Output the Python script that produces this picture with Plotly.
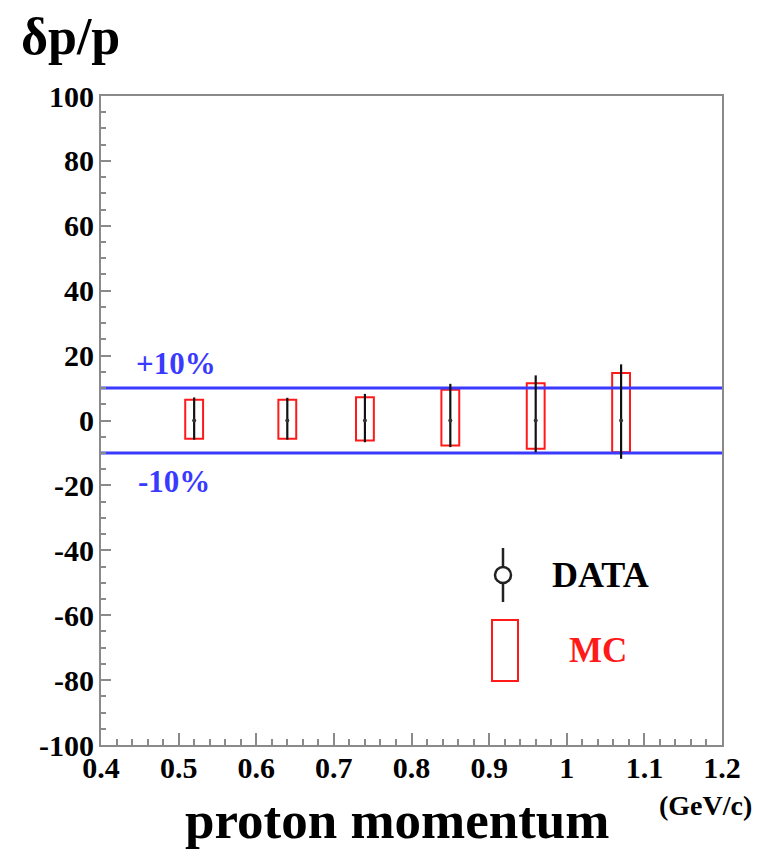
import plotly.graph_objects as go

# Proton momentum bins (GeV/c)
momentum = [0.52, 0.64, 0.74, 0.85, 0.96, 1.07]

# Measured resolution (DATA): central value and upper / lower error (%)
data_val = [0, 0, 0, 0, 0, 0]
data_err_up = [7.1, 7.0, 8.2, 11.3, 13.9, 17.3]
data_err_dn = [5.9, 5.9, 6.7, 8.2, 9.8, 11.8]

# Simulation (MC) band: upper / lower edges (%)
mc_up = [6.4, 6.4, 7.2, 9.5, 11.5, 14.6]
mc_dn = [5.6, 5.6, 6.2, 7.7, 8.7, 9.8]
mc_box_width = 0.023

# Reference band limits (%)
band_limits = [10, -10]
band_labels = ["+10%", "-10%"]

x_range = [0.4, 1.2]
y_range = [-100, 100]
y_ticks = [-100, -80, -60, -40, -20, 0, 20, 40, 60, 80, 100]
y_tick_labels = ["-100", "-80", "-60", "-40", "-20", "0", "20", "40", "60", "80", "100"]

W, H = 770, 854
L, R, T, B = 101, 48, 96, 109
PW, PH = W - L - R, H - T - B

SERIF = "Liberation Serif"
AXIS_GREY = "#8a8a8a"
BAND_BLUE = "#3a3aff"


def px(xp, yp):
    """Pixel position in the page -> paper coordinates."""
    return (xp - L) / PW, (H - B - yp) / PH


fig = go.Figure()

# MC boxes: open red rectangles spanning the MC band
fig.add_trace(go.Bar(
    x=momentum,
    y=[u + d for u, d in zip(mc_up, mc_dn)],
    base=[-d for d in mc_dn],
    width=mc_box_width,
    marker=dict(color="rgba(0,0,0,0)", line=dict(color="#ff1a1a", width=2)),
    showlegend=False,
    hoverinfo="skip",
))

# ±10 % reference lines
for lim in band_limits:
    fig.add_trace(go.Scatter(
        x=x_range, y=[lim, lim], mode="lines",
        line=dict(color=BAND_BLUE, width=3),
        showlegend=False, hoverinfo="skip",
    ))

# DATA points with vertical error bars
fig.add_trace(go.Scatter(
    x=momentum, y=data_val, mode="markers",
    marker=dict(color="#333333", size=4, symbol="circle"),
    error_y=dict(type="data", symmetric=False,
                 array=data_err_up, arrayminus=data_err_dn,
                 color="#111111", thickness=2.2, width=0),
    showlegend=False,
))

tick_font = dict(family=SERIF, size=30, color="black", weight="bold")

fig.update_xaxes(
    range=x_range, dtick=0.1, tick0=0.4,
    showline=True, linecolor=AXIS_GREY, linewidth=2, mirror=True,
    ticks="inside", ticklen=12, tickwidth=1.5, tickcolor=AXIS_GREY,
    minor=dict(dtick=0.02, ticks="inside", ticklen=6, tickcolor=AXIS_GREY, tickwidth=1.5),
    showgrid=False, zeroline=False,
    tickfont=tick_font, ticklabelstandoff=-5,
)
fig.update_yaxes(
    range=y_range, tickvals=y_ticks, ticktext=y_tick_labels,
    showline=True, linecolor=AXIS_GREY, linewidth=2, mirror=True,
    ticks="inside", ticklen=10, tickwidth=1.5, tickcolor=AXIS_GREY,
    minor=dict(dtick=5, ticks="inside", ticklen=5, tickcolor=AXIS_GREY, tickwidth=1.5),
    showgrid=False, zeroline=False,
    tickfont=tick_font, ticklabelstandoff=-1,
)

annotations = []


def add_text(text, xp, yp, size, color="black", xanchor="center", yanchor="middle"):
    ax, ay = px(xp, yp)
    annotations.append(dict(
        text=text, x=ax, y=ay, xref="paper", yref="paper",
        xanchor=xanchor, yanchor=yanchor, showarrow=False, borderpad=0,
        font=dict(family=SERIF, size=size, color=color, weight="bold"),
    ))


# Axis titles
add_text("δp/p", 20, 36, 52, xanchor="left")
add_text("proton momentum", 397, 820, 53)
add_text("(GeV/c)", 705, 805, 28)

# Band labels
add_text(band_labels[0], 176, 363, 31, color=BAND_BLUE)
add_text(band_labels[1], 174, 481, 31, color=BAND_BLUE)

# Legend entries
add_text("DATA", 600, 575, 36)
add_text("MC", 598, 650, 35, color="#ff1a1a")

shapes = []
# DATA legend glyph: vertical bar with open circle
x0, y0 = px(503, 548)
x1, y1 = px(503, 602)
shapes.append(dict(type="line", xref="paper", yref="paper", x0=x0, y0=y0, x1=x1, y1=y1,
                   line=dict(color="#222222", width=2.5)))
cx0, cy0 = px(495, 567)
cx1, cy1 = px(511, 583)
shapes.append(dict(type="circle", xref="paper", yref="paper", x0=cx0, y0=cy0, x1=cx1, y1=cy1,
                   fillcolor="white", line=dict(color="#222222", width=2.5)))
# MC legend glyph: open red box
bx0, by0 = px(492, 620)
bx1, by1 = px(518, 681)
shapes.append(dict(type="rect", xref="paper", yref="paper", x0=bx0, y0=by0, x1=bx1, y1=by1,
                   line=dict(color="#ff1a1a", width=2)))

fig.update_layout(
    width=W, height=H,
    margin=dict(l=L, r=R, t=T, b=B),
    paper_bgcolor="white", plot_bgcolor="white",
    showlegend=False,
    annotations=annotations,
    shapes=shapes,
    barmode="overlay",
)

fig.write_html("out.html")
